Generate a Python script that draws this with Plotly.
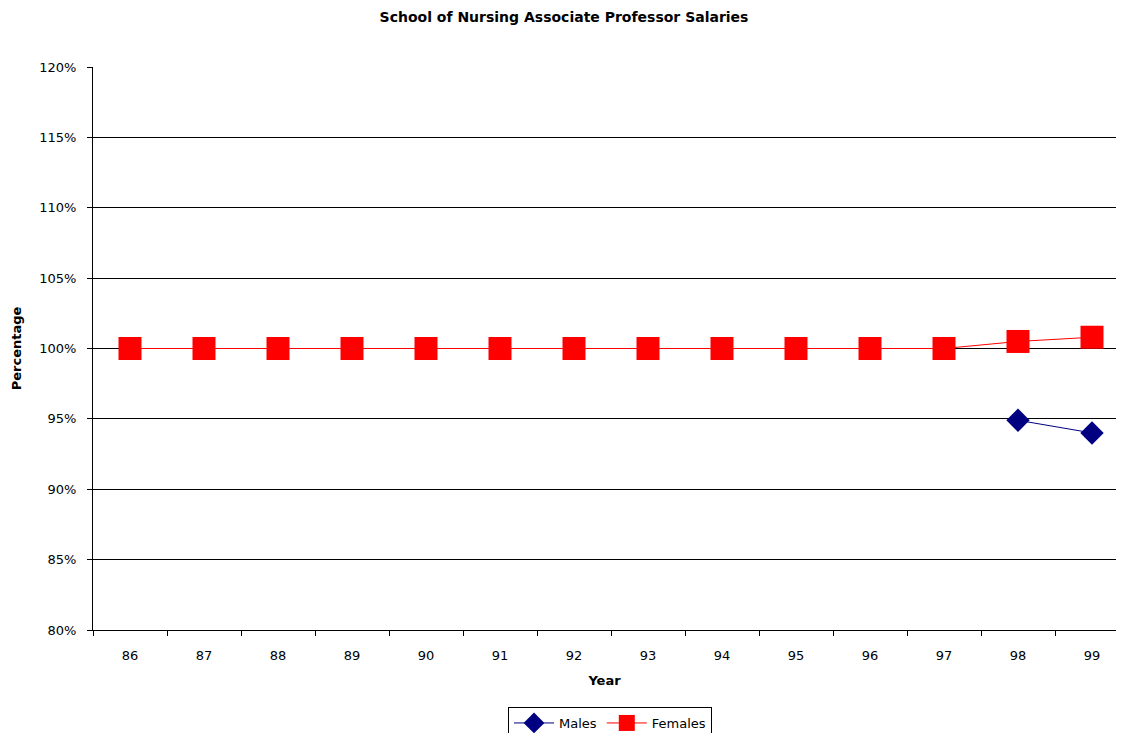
import plotly.graph_objects as go

years = ["86", "87", "88", "89", "90", "91", "92", "93", "94", "95", "96", "97", "98", "99"]
males = [None] * 12 + [94.9, 94.0]
females = [100.0] * 12 + [100.5, 100.8]
y_ticks = [80, 85, 90, 95, 100, 105, 110, 115, 120]
y_tick_labels = [f"{v}%" for v in y_ticks]

font = "DejaVu Sans, Liberation Sans, Arial, sans-serif"
W, H = 1108, 733

fig = go.Figure()
fig.add_trace(go.Scatter(
    x=years, y=males, name="Males", mode="lines+markers",
    line=dict(color="#000080", width=1),
    marker=dict(symbol="diamond", size=18, color="#000080"),
))
fig.add_trace(go.Scatter(
    x=years, y=females, name="Females", mode="lines+markers",
    line=dict(color="#ff0000", width=1),
    marker=dict(symbol="square", size=23, color="#ff0000"),
))

fig.update_layout(
    width=W, height=H,
    paper_bgcolor="white", plot_bgcolor="white",
    font=dict(family=font, size=13, color="black"),
    margin=dict(l=85, r=0, t=59, b=111),
    title=dict(text="<b>School of Nursing Associate Professor Salaries</b>",
               x=556 / W, xref="container", xanchor="center",
               y=1 - 4 / H, yref="container", yanchor="top",
               font=dict(size=14, family=font)),
    xaxis=dict(
        type="category", tickson="boundaries", ticks="outside", ticklen=5,
        tickcolor="black", showline=True, linecolor="black", linewidth=1,
        showgrid=False, range=[-0.5, -0.5 + 1023 / 74], automargin=False,
        ticklabelstandoff=13,
        title=dict(text="<b>Year</b>", standoff=14, font=dict(size=13)),
        tickfont=dict(size=13),
    ),
    yaxis=dict(
        range=[80, 120], tickvals=y_ticks, ticktext=y_tick_labels,
        ticks="outside", ticklen=5, tickcolor="black",
        showline=True, linecolor="black", linewidth=1,
        showgrid=True, gridcolor="black", gridwidth=1,
        zeroline=False, automargin=False, ticklabelstandoff=8,
        title=dict(text="<b>Percentage</b>", standoff=14, font=dict(size=13)),
        tickfont=dict(size=13),
    ),
    legend=dict(
        orientation="h", xref="container", x=602 / W, xanchor="center",
        yref="container", y=(H - 699) / H, yanchor="top",
        bordercolor="black", borderwidth=1,
        font=dict(size=13), itemwidth=40,
    ),
    showlegend=True,
)

fig.write_html("out.html")
